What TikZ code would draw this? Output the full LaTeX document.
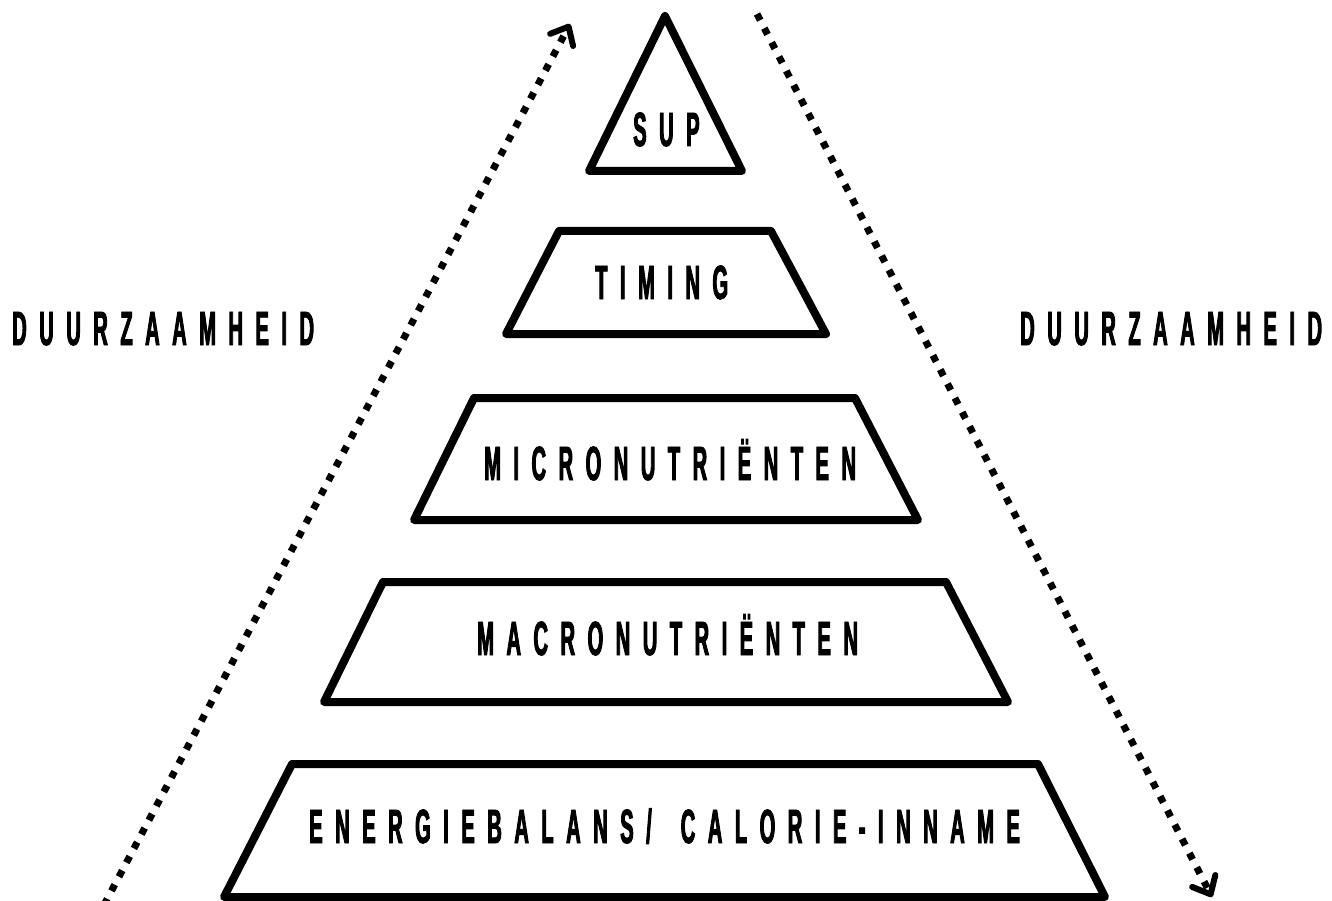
\documentclass[tikz,border=0pt]{standalone}
\usepackage{fontspec}
\usetikzlibrary{arrows.meta}
\newfontfamily\condfont[FakeStretch=0.42,FakeBold=1.8,LetterSpace=26]{Liberation Sans Bold}
\tikzset{
  tier/.style={draw=black,line width=8pt,line join=round,line cap=round},
  lbl/.style={anchor=base west,inner sep=0pt,font=\condfont\fontsize{48}{48}\selectfont},
  dotarrow/.style={line width=7pt,dash pattern=on 7pt off 9pt,
    -{Straight Barb[length=15pt,width=26pt,line width=6pt,line cap=round,line join=round]}}
}
\begin{document}
\begin{tikzpicture}[x=1pt,y=-1pt]
\useasboundingbox (0,0) rectangle (1332,901);
% tiers
\draw[tier] (665,16) -- (742,171) -- (589,171) -- cycle;
\draw[tier] (559,231) -- (771,231) -- (826,334) -- (506,334) -- cycle;
\draw[tier] (474,398) -- (855,398) -- (918,520) -- (414,520) -- cycle;
\draw[tier] (383,582) -- (946,582) -- (1008,702) -- (324,702) -- cycle;
\draw[tier] (292,764) -- (1038,764) -- (1105,897) -- (224,897) -- cycle;
% labels
\node[lbl] (sup) at (633,146) {SUP};
\node[lbl] (timing) at (595,299) {TIMING};
\node[lbl] (micro) at (484,480) {MICRONUTRIËNTEN};
\node[lbl] (macro) at (477,655) {MACRONUTRIËNTEN};
\node[lbl] (energie) at (309,843) {ENERGIEBALANS/\hspace{29pt}CALORIE-INNAME};
\node[lbl] (duurL) at (12,345) {DUURZAAMHEID};
\node[lbl] (duurR) at (1020,345) {DUURZAAMHEID};
% arrows
\coordinate (lstart) at (104,905);
\coordinate (lend) at (570,24);
\coordinate (rstart) at (757,14);
\coordinate (rend) at (1212,897);
\draw[dotarrow] (lstart) -- (lend);
\draw[dotarrow] (rstart) -- (rend);
\end{tikzpicture}
\end{document}
